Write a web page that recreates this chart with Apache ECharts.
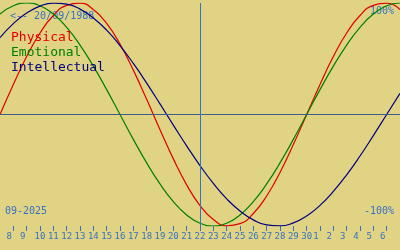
<!DOCTYPE html>
<html>
<head>
<meta charset="utf-8">
<script src="https://cdn.jsdelivr.net/npm/echarts@6/dist/echarts.min.js"></script>
<style>
html,body{margin:0;padding:0;background:#e0d384;}
#c{width:400px;height:250px;}
</style>
</head>
<body>
<div id="c"></div>
<script>
// Day offsets from 7 Sept 2025 (0) to 7 Oct 2025 (30)
const dayIndex = [0,1,2,3,4,5,6,7,8,9,10,11,12,13,14,15,16,17,18,19,20,21,22,23,24,25,26,27,28,29,30];
const tickIndex = [1,2,3,4,5,6,7,8,9,10,11,12,13,14,15,16,17,18,19,20,21,22,23,24,25,26,27,28,29];
const tickLabels = ['8','9','10','11','12','13','14','15','16','17','18','19','20','21','22','23','24','25','26','27','28','29','30','1','2','3','4','5','6'];
const todayIndex = 15;
const physical = [0,0.270,0.520,0.731,0.888,0.979,0.998,0.942,0.817,0.631,0.398,0.136,-0.136,-0.398,-0.631,-0.817,-0.942,-0.998,-0.979,-0.888,-0.731,-0.520,-0.270,0,0.270,0.520,0.731,0.888,0.979,0.998,0.942];
const emotional = [0.901,0.975,1,0.975,0.901,0.782,0.623,0.434,0.223,0,-0.223,-0.434,-0.623,-0.782,-0.901,-0.975,-1,-0.975,-0.901,-0.782,-0.623,-0.434,-0.223,0,0.223,0.434,0.623,0.782,0.901,0.975,1];
const intellectual = [0.690,0.815,0.910,0.972,0.999,0.990,0.945,0.866,0.756,0.618,0.458,0.282,0.095,-0.095,-0.282,-0.458,-0.618,-0.756,-0.866,-0.945,-0.990,-0.999,-0.972,-0.910,-0.815,-0.690,-0.541,-0.372,-0.189,0,0.189];
const seriesNames = ['Physical','Emotional','Intellectual'];
const seriesColors = ['#e00000','#008000','#000080'];

const pairs = arr => dayIndex.map((d,i)=>[d,arr[i]]);
const mono = '"DejaVu Sans Mono", monospace';
const blue = '#3572c4';

const chart = echarts.init(document.getElementById('c'), null, {renderer:'canvas'});
chart.setOption({
  backgroundColor:'#e0d384',
  animation:false,
  grid:{left:0,right:0,top:3,bottom:24,containLabel:false},
  xAxis:{
    type:'value',min:0,max:30,interval:1,
    axisLine:{show:false,onZero:false},
    splitLine:{show:false},
    axisTick:{show:true,length:5,customValues:tickIndex,lineStyle:{color:blue,width:1}},
    axisLabel:{show:true,customValues:tickIndex,margin:6,color:blue,fontFamily:mono,fontSize:9,
      formatter:v=>{const s=tickLabels[tickIndex.indexOf(v)]||'';return s.length<2?'{s|'+s+'}':'{d|'+s+'}';},
      rich:{
        s:{fontFamily:mono,fontSize:9,color:blue,padding:[0,8,0,0]},
        d:{fontFamily:mono,fontSize:9,color:blue}
      }}
  },
  yAxis:{type:'value',min:-1,max:1,show:false},
  legend:{
    orient:'vertical',left:6,top:30,icon:'none',itemWidth:0,itemHeight:1,itemGap:0,padding:0,
    selectedMode:false,
    textStyle:{fontFamily:mono,fontSize:13,lineHeight:15,padding:[0,0,0,0]},
    data:seriesNames.map((n,i)=>({name:n,textStyle:{color:seriesColors[i]}}))
  },
  graphic:[
    {type:'text',left:10,top:11,style:{text:'<-- 20/09/1988',font:'10px '+mono,fill:blue}},
    {type:'text',right:6,top:6,style:{text:'100%',font:'10px '+mono,fill:blue}},
    {type:'text',right:6,top:206,style:{text:'-100%',font:'10px '+mono,fill:blue}},
    {type:'text',left:5,top:206,style:{text:'09-2025',font:'10px '+mono,fill:blue}}
  ],
  series:[
    {name:seriesNames[0],type:'line',smooth:true,showSymbol:false,symbol:'none',data:pairs(physical),lineStyle:{color:seriesColors[0],width:1.2},itemStyle:{color:seriesColors[0]},z:3,
      markLine:{silent:true,symbol:'none',label:{show:false},data:[
        {yAxis:0,lineStyle:{color:'#3d5f86',width:1,type:'solid'}},
        {xAxis:todayIndex,lineStyle:{color:blue,width:1,type:'solid'}}
      ]}},
    {name:seriesNames[1],type:'line',smooth:true,showSymbol:false,symbol:'none',data:pairs(emotional),lineStyle:{color:seriesColors[1],width:1.2},itemStyle:{color:seriesColors[1]},z:3},
    {name:seriesNames[2],type:'line',smooth:true,showSymbol:false,symbol:'none',data:pairs(intellectual),lineStyle:{color:seriesColors[2],width:1.2},itemStyle:{color:seriesColors[2]},z:3}
  ]
});
</script>
</body>
</html>
